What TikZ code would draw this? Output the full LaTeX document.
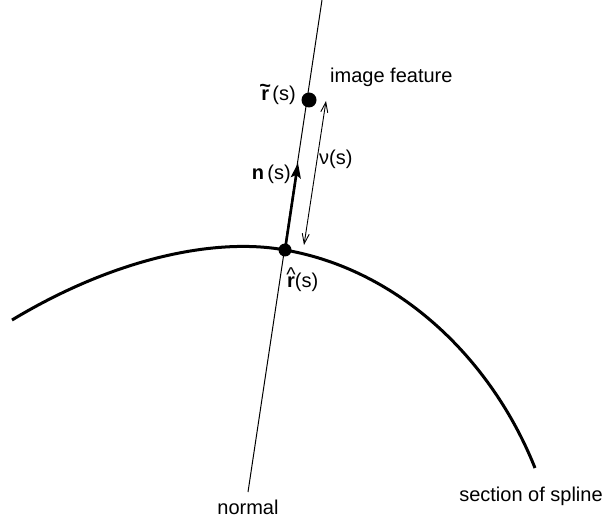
\documentclass[tikz,border=0pt]{standalone}
\usepackage{fontspec}
\setmainfont{Liberation Sans}
\usetikzlibrary{arrows.meta}
\newcommand\accr[2]{\textbf{\makebox[0pt][l]{\makebox[0.389em]{\raisebox{#2}{#1}}}r}}
\begin{document}
\begin{tikzpicture}[x=1pt,y=-1pt,
  lbl/.style={font=\fontsize{20}{24}\selectfont, inner sep=0pt},
  dot/.style={circle, fill=black, inner sep=0pt, minimum size=#1},
  thin line/.style={line width=1pt},
  spline/.style={line width=3pt},
  narrow/.style={line width=2.6pt, -{Stealth[length=15pt,width=10pt,inset=3pt]}},
  nuarrow/.style={line width=0.9pt, {Straight Barb[length=10pt,width=7pt]}-{Straight Barb[length=10pt,width=7pt]}}]
\useasboundingbox (0,0) rectangle (610,518);
% normal line
\coordinate (ntop) at (322,0);
\coordinate (nbot) at (248,492);
\draw[thin line] (ntop) -- (nbot);
% spline
\coordinate (sa) at (12,320);
\coordinate (sb) at (535,468);
\node[dot=13pt] (rhat) at (285,250) {};
\draw[spline] (sa) .. controls (120,255) and (220,238) .. (rhat.center)
  .. controls (400,270) and (492,360) .. (sb);
% image feature point
\node[dot=15pt] (rtil) at (309,100) {};
% n(s) arrow
\coordinate (ntip) at (298,163);
\draw[narrow] (rhat.center) -- (ntip);
% nu(s) arrow
\coordinate (nua) at (326,101);
\coordinate (nub) at (304,245);
\draw[nuarrow] (nua) -- (nub);
% labels
\node[lbl, anchor=base east] (lrt) at (296,101) {\accr{\textasciitilde}{8.5pt}\,(s)};
\node[lbl, anchor=base east] (ln) at (291,180) {\textbf{n}\,(s)};
\node[lbl, anchor=base west] (lnu) at (319,165) {ν(s)};
\node[lbl, anchor=base west] (lrh) at (287,288) {\accr{\mdseries\textasciicircum}{6pt}(s)};
\node[lbl, anchor=base west] (lif) at (330,83) {image feature};
\node[lbl, anchor=base] (lno) at (248,514) {normal};
\node[lbl, anchor=base] (lsp) at (531,501) {section of spline};
\end{tikzpicture}
\end{document}
